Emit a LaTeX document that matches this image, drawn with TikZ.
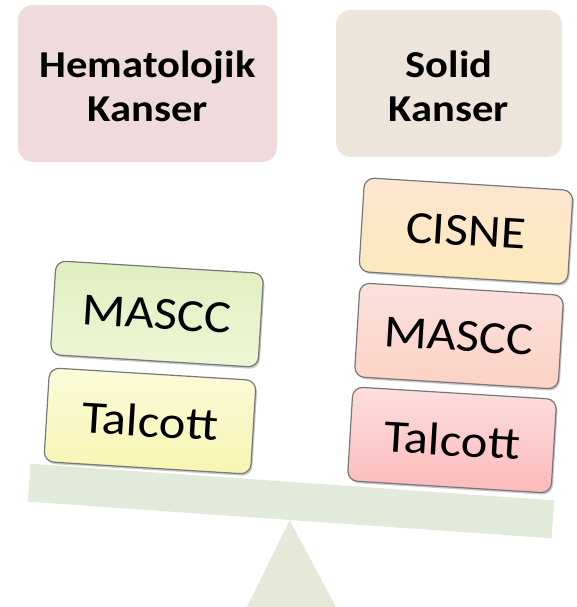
\documentclass[tikz,border=0pt]{standalone}
\usepackage{graphicx}
\usepackage{fontspec}
\setmainfont{Carlito}
\usetikzlibrary{shadows}
\definecolor{hemfill}{RGB}{239,219,219}
\definecolor{solfill}{RGB}{237,228,220}
\definecolor{beamfill}{RGB}{226,234,217}
\definecolor{fulcfill}{RGB}{232,232,216}
\definecolor{boxline}{RGB}{120,120,120}
\definecolor{gtop}{RGB}{224,239,192}
\definecolor{gbot}{RGB}{238,247,214}
\definecolor{ytop}{RGB}{251,251,218}
\definecolor{ybot}{RGB}{248,245,178}
\definecolor{ctop}{RGB}{252,229,210}
\definecolor{cbot}{RGB}{253,234,186}
\definecolor{mtop}{RGB}{252,225,222}
\definecolor{mbot}{RGB}{252,210,196}
\definecolor{ttop}{RGB}{253,222,222}
\definecolor{tbot}{RGB}{251,186,186}
\newcommand{\bxt}[1]{\scalebox{1.1}[1]{#1}}
\newcommand{\hdt}[1]{\scalebox{1.12}[1]{#1}}
\tikzset{
  header/.style={rounded corners=15pt, inner sep=0pt, align=center, text=black,
    font=\fontsize{38}{44}\selectfont\bfseries},
  weight/.style={draw=boxline, line width=1.2pt, rounded corners=10pt,
    minimum height=94pt, inner sep=0pt, rotate=-3.5,
    font=\fontsize{46}{50}\selectfont,
    drop shadow={shadow xshift=1.5pt, shadow yshift=-2pt, opacity=0.35, fill=black!60}},
  beamstyle/.style={fill=beamfill, draw=none, inner sep=0pt},
  fulcrum/.style={fill=fulcfill, draw=none}
}
\begin{document}
\begin{tikzpicture}[x=1pt, y=-1pt]
\useasboundingbox (0,0) rectangle (577,607);
% header boxes
\node[header, fill=hemfill, minimum width=259pt, minimum height=157pt] (hem) at (147.5,83.5) {};
\node[align=center, font=\fontsize{38}{44}\selectfont\bfseries] (hemtxt) at (hem.center) [yshift=-3pt]
  {\hdt{Hematolojik}\\\hdt{Kanser}};
\node[header, fill=solfill, minimum width=226pt, minimum height=147pt] (sol) at (449,83.5) {};
\node[align=center, font=\fontsize{38}{44}\selectfont\bfseries] (soltxt) at (sol.center) [yshift=-3pt]
  {\hdt{Solid}\\\hdt{Kanser}};
% beam and fulcrum
\node[beamstyle, minimum width=525pt, minimum height=38pt, rotate=-4] (beam) at (291,501) {};
\coordinate (fl) at (247,607);
\coordinate (fr) at (336,607);
\fill[fulcrum] (beam.south) -- (fl) -- (fr) -- cycle;
% left weights
\node[weight, top color=gtop, bottom color=gbot, minimum width=208pt] (mascL) at (157,314) {\bxt{MASCC}};
\node[weight, top color=ytop, bottom color=ybot, minimum width=207pt] (talL) at (150,421) {\bxt{Talcott}};
% right weights
\node[weight, top color=ctop, bottom color=cbot, minimum width=209pt] (cisne) at (466,231) {\bxt{CISNE}};
\node[weight, top color=mtop, bottom color=mbot, minimum width=204pt] (mascR) at (459,336) {\bxt{MASCC}};
\node[weight, top color=ttop, bottom color=tbot, minimum width=204pt] (talR) at (452,440) {\bxt{Talcott}};
\end{tikzpicture}
\end{document}
